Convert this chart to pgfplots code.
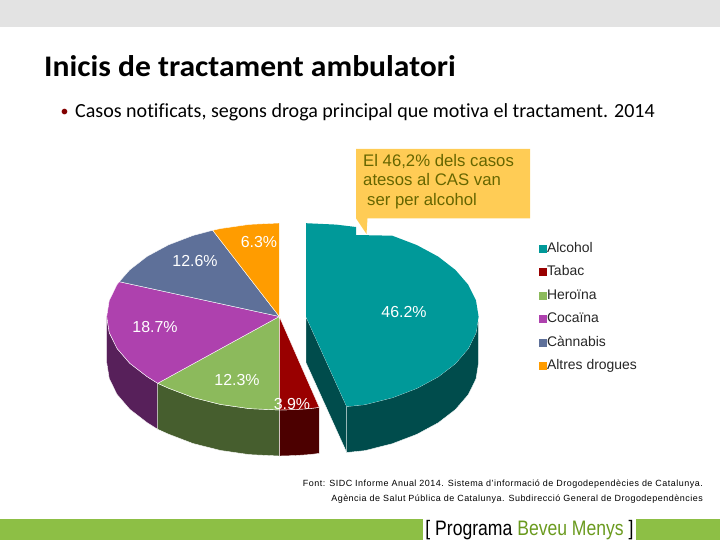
\documentclass[border=0pt]{standalone}
\usepackage{graphicx}
\usepackage{fontspec}
\setmainfont{Liberation Sans}
\newfontfamily\carlito[Ligatures=NoCommon]{Carlito}
\usepackage{pgfplots}
\pgfplotsset{compat=1.18}
\definecolor{cAlc}{HTML}{009999}
\definecolor{cAlcD}{HTML}{004C4C}
\definecolor{cTab}{HTML}{990000}
\definecolor{cTabD}{HTML}{4C0000}
\definecolor{cHer}{HTML}{8CBA5C}
\definecolor{cHerD}{HTML}{465E2E}
\definecolor{cCoc}{HTML}{AE41AE}
\definecolor{cCocD}{HTML}{57205A}
\definecolor{cCan}{HTML}{5E7099}
\definecolor{cAlt}{HTML}{FF9C00}
\definecolor{cCall}{HTML}{FFCC55}
\definecolor{cCallT}{HTML}{666600}
\definecolor{cBar}{HTML}{8DBF45}
\definecolor{cBev}{HTML}{6A9A1E}
\begin{document}
\begin{tikzpicture}
\begin{axis}[
    scale only axis, width=720bp, height=540bp,
    xmin=0, xmax=720, ymin=0, ymax=540, y dir=reverse,
    hide axis,
    every axis plot/.append style={line join=round},
    legend image code/.code={\fill[#1,draw=none] (0bp,-4bp) rectangle (8bp,4bp);},
    legend style={draw=none, fill=none, at={(axis cs:539,241.2)}, anchor=north west,
        inner sep=0pt, outer sep=0pt, row sep=8.5bp,
        nodes={inner sep=0pt, anchor=west, text height=11bp, text depth=4bp, font=\fontsize{14}{15}\selectfont, text=black!85}}
]
% page bands
\addplot[fill=black!11, draw=none, forget plot] coordinates {(0,0) (720,0) (720,27.5) (0,27.5)} --cycle;
\addplot[fill=cBar, draw=none, forget plot] coordinates {(0,519) (423,519) (423,540) (0,540)} --cycle;
\addplot[fill=cBar, draw=none, forget plot] coordinates {(636,519) (720,519) (720,540) (636,540)} --cycle;
% side walls, left part of the pie
\addplot[fill=cCocD, draw=white, line width=.4pt, forget plot] coordinates {
    (106.7,316.5) (109.3,332.7) (117.1,348.5) (129.8,363.3) (147.1,376.6) (157.7,383.3)
    (157.7,429.3) (147.1,422.6) (129.8,409.3) (117.1,394.5) (109.3,378.7) (106.7,362.5)} --cycle;
\addplot[fill=cHerD, draw=white, line width=.4pt, forget plot] coordinates {
    (157.7,383.3) (168.4,388.1) (193.0,397.5) (220.3,404.4) (249.3,408.6) (279.3,410)
    (279.3,456) (249.3,454.6) (220.3,450.4) (193.0,443.5) (168.4,434.1) (157.7,429.3)} --cycle;
\addplot[fill=cTabD, draw=white, line width=.4pt, forget plot] coordinates {
    (279.3,410) (294.3,409.6) (309.3,408.6) (319.3,407.4)
    (319.3,453.4) (309.3,454.6) (294.3,455.6) (279.3,456)} --cycle;
% top faces, left part
\addplot[fill=cHer, draw=white, line width=.4pt, forget plot] coordinates {
    (279.3,316.5) (279.3,410) (249.3,408.6) (220.3,404.4) (193.0,397.5) (168.4,388.1) (157.7,383.3)} --cycle;
\addplot[fill=cCoc, draw=white, line width=.4pt, forget plot] coordinates {
    (279.3,316.5) (157.7,383.3) (147.1,376.6) (129.8,363.3) (117.1,348.5) (109.3,332.7) (106.7,316.5)
    (109.3,300.3) (117.1,284.5) (119.3,281.7)} --cycle;
\addplot[fill=cCan, draw=white, line width=.4pt, forget plot] coordinates {
    (279.3,316.5) (119.3,281.7) (129.8,269.8) (147.1,256.4) (168.4,244.9) (193.0,235.5) (212.7,230.3)} --cycle;
\addplot[fill=cAlt, draw=white, line width=.4pt, forget plot] coordinates {
    (279.3,316.5) (212.7,230.3) (220.3,228.6) (249.3,224.4) (279.3,223)} --cycle;
\addplot[fill=cTab, draw=white, line width=.4pt, forget plot] coordinates {
    (279.3,316.5) (319.3,407.4) (309.3,408.6) (294.3,409.6) (279.3,410)} --cycle;
% exploded slice
\addplot[fill=cAlcD, draw=white, line width=.4pt, forget plot] coordinates {
    (306,316.7) (346.7,406.5) (346.7,452.5) (306,362.7)} --cycle;
\addplot[fill=cAlcD, draw=white, line width=.4pt, forget plot] coordinates {
    (346.7,406.5) (365,404.6) (392.3,397.7) (416.9,388.3) (438.2,376.8) (455.5,363.5) (468.2,348.7) (476,332.9) (478.6,316.7)
    (478.6,362.7) (476,378.9) (468.2,394.7) (455.5,409.5) (438.2,422.8) (416.9,434.3) (392.3,443.7) (365,450.6) (346.7,452.5)} --cycle;
\addplot[fill=cAlc, draw=none, forget plot] coordinates {
    (306,316.7) (306,223.2) (336,224.6) (356,227) (356,235) (392.3,235.7) (416.9,245.1) (438.2,256.6) (455.5,270)
    (468.2,284.7) (476,300.5) (478.6,316.7) (476,332.9) (468.2,348.7) (455.5,363.5) (438.2,376.8) (416.9,388.3)
    (392.3,397.7) (365,404.6) (346.7,406.5)} --cycle;
% callout
\addplot[fill=cCall, draw=none, forget plot] coordinates {
    (356,149) (530,149) (530,218.3) (367.5,218.3) (366.5,234) (356,218.3)} --cycle;
% legend
\addlegendimage{fill=cAlc}
\addlegendimage{fill=cTab}
\addlegendimage{fill=cHer}
\addlegendimage{fill=cCoc}
\addlegendimage{fill=cCan}
\addlegendimage{fill=cAlt}
\legend{Alcohol, Tabac, Heroïna, Cocaïna, Cànnabis, Altres drogues}
% text
\node[anchor=base west, inner sep=0pt] at (axis cs:44,77) {\scalebox{1.057}[1]{\carlito\bfseries\fontsize{30}{32}\selectfont Inicis de tractament ambulatori}};
\node[anchor=base west, inner sep=0pt, text=cTab!85!black] at (axis cs:60.5,117) {\carlito\fontsize{16}{18}\selectfont •};
\node[anchor=base west, inner sep=0pt] at (axis cs:75,118) {\carlito\fontsize{20.1}{22}\selectfont Casos notificats, segons droga principal que motiva el tractament. 2014};
\foreach \lx/\ly/\lt in {404/312/46.2\%, 259/242/6.3\%, 195/261/12.6\%, 155/327/18.7\%, 237/380/12.3\%, 292/404/3.9\%}
    {\edef\temp{\noexpand\node[text=white, inner sep=0pt] at (axis cs:\lx,\ly) {\noexpand\fontsize{16}{18}\noexpand\selectfont \lt};}\temp}
\node[anchor=base west, inner sep=0pt, text=cCallT] at (axis cs:363,166.5) {\fontsize{16.8}{18}\selectfont El 46,2\% dels casos};
\node[anchor=base west, inner sep=0pt, text=cCallT] at (axis cs:363,186) {\fontsize{16.8}{18}\selectfont atesos al CAS van};
\node[anchor=base west, inner sep=0pt, text=cCallT] at (axis cs:367,205.5) {\fontsize{16.8}{18}\selectfont ser per alcohol};
\node[anchor=base east, inner sep=0pt] at (axis cs:703,486.5) {\addfontfeature{LetterSpace=5.5}\fontsize{9}{10}\selectfont Font: SIDC Informe Anual 2014. Sistema d'informació de Drogodependècies de Catalunya.};
\node[anchor=base east, inner sep=0pt] at (axis cs:703,501.5) {\addfontfeature{LetterSpace=5.5}\fontsize{9}{10}\selectfont Agència de Salut Pública de Catalunya. Subdirecció General de Drogodependències};
\node[anchor=base, inner sep=0pt] at (axis cs:529.5,535) {\scalebox{0.84}[1]{\fontsize{21}{22}\selectfont [ Programa \textcolor{cBev}{Beveu Menys} ]}};
\end{axis}
\end{tikzpicture}
\end{document}
